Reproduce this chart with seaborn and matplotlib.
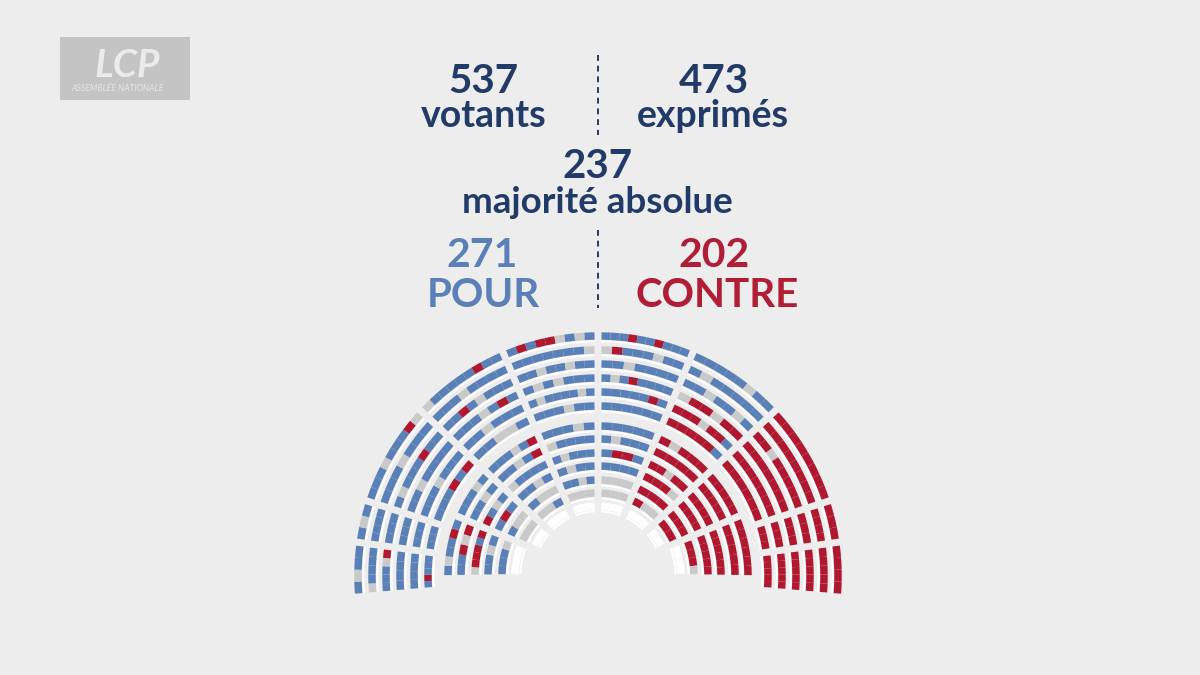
import numpy as np
import pandas as pd
import matplotlib.pyplot as plt
from matplotlib.patches import Wedge, Rectangle
import seaborn as sns

# header figures
votants = 537
exprimes = 473
majorite = 237
pour = 271
contre = 202

# seats per sector, one string per row (inner -> outer), seats from left to right
# P = pour, C = contre, A = abstention / non-votant, E = siege vide
L1 = ["EEE", "AAA", "PPAP", "PAPP", "PAPPP", "APPPP", "PPPAP",
      "PPPAPP", "PAPPPPAP", "PAPAPPP", "PPAPPAPP", "PPPPPPPA", "PCPCCAPAP"]
L2 = ["EEE", "AAP", "PAA", "PPAP", "APPPP", "PPAPC", "PPPAPC",
      "PPAAP", "PPAPPP", "PPPAPCP", "PPCPAPPP", "PPPAPPPP", "APPPPPCPP"]
L3_out = ["PPPCPC", "PPPAPPP", "PPAPPPP", "PAPPPCPP", "PPPAPPP", "PPPAPPPCA"]
L3_in = ["EEE", "AA", "PAA", "PCP", "CPAP", "PPAP", "PPPAP"]
L4_out = ["PPP", "PPP", "PPP", "PPP", "PPPP", "PAP"]
L5_out = ["PCPPP", "PPPP", "PPPP", "PPPAC", "APPPP", "PAPP"]
L4_in = ["EEE", "PPPA", "PPAP", "ACCCPC", "PPCAC", "PAPPCP"]

R1 = ["EEE", "AAA", "AAA", "PPPP", "PCCP", "PAPPP", "PPPPP",
      "PPPPPP", "PPPPPCP", "PAPCPPPP", "PPAPPPP", "ACPPPAPP", "PPPCPPCPPP"]
R2 = ["EEE", "CAA", "CCC", "CCCA", "CCACC", "CCCC", "CACCC",
      "CCCCCP", "CCCACCP", "ACCACC", "PPAPPAP", "PAPPPPP", "PPPPPAPP"]
R3_out = ["CCCCCC", "CCCCCCC", "CCCCCCC", "CCACCCCC", "CCCCCCCC", "CCCCCCCC"]
R3_in = ["EEE", "CC", "CCC", "CCCC", "CCCC", "CCCCC", "CCCCC"]
R4_out = ["CCC", "CCC", "CCC", "CCC", "CCCC", "CCC"]
R5_out = ["CCCCC", "CCCCC", "CCCCC", "CCCCC", "CCCCC", "CCCC"]
R4_in = ["EEE", "CCCA", "CCCCC", "CCCCCC", "CCCCC", "CCCCCC"]

# layout of the hemicycle (pixel units)
CX, CY = 598, 675 - 576
RADII = [70, 83, 96, 110, 123, 137, 150, 170, 184, 198, 212, 226, 240]
BAND = 7.5
AISLE = 3.5
SECTORS = [  # rows, angle of left aisle, angle of right aisle, first row index
    (L1, 113, 90, 0), (L2, 137, 113, 0), (L3_out, 162, 137, 7), (L3_in, 157, 137, 0),
    (L4_out, 172, 162, 7), (L5_out, 185, 172, 7), (L4_in, 181, 157, 1),
    (R1, 90, 67, 0), (R2, 67, 43, 0), (R3_out, 43, 18, 7), (R3_in, 43, 23, 0),
    (R4_out, 18, 8, 7), (R5_out, 8, -5, 7), (R4_in, 23, -1, 1),
]

BG = "#ededed"
NAVY = "#213b68"
SEAT_COL = {"P": "#5a80b8", "C": "#b0182f", "A": "#c9c9c9", "E": "#ffffff"}

seats, desks = [], []
for rows, a_hi, a_lo, first in SECTORS:
    for i, code in enumerate(rows):
        r = RADII[first + i]
        hg = np.degrees(AISLE / r)
        t_hi, t_lo = a_hi - hg, a_lo + hg
        desks.append((r, t_lo, t_hi))
        edges = np.linspace(t_hi, t_lo, len(code) + 1)
        for k, v in enumerate(code):
            seats.append({"r": r, "t1": edges[k + 1], "t2": edges[k], "vote": v})
seats = pd.DataFrame(seats)

sns.set_theme(style="white", rc={"figure.facecolor": BG, "axes.facecolor": BG})
plt.rcParams["font.family"] = ["Lato", "DejaVu Sans"]

fig = plt.figure(figsize=(12, 6.75), dpi=100)
ax = fig.add_axes([0, 0, 1, 1])
ax.set_xlim(0, 1200)
ax.set_ylim(0, 675)
ax.axis("off")

for r, t_lo, t_hi in desks:
    ax.add_patch(Wedge((CX, CY), r - BAND / 2 - 0.6, t_lo, t_hi, width=2.0,
                       facecolor="white", edgecolor="none"))
for s in seats.itertuples():
    ax.add_patch(Wedge((CX, CY), s.r + BAND / 2, s.t1, s.t2, width=BAND,
                       facecolor=SEAT_COL[s.vote], edgecolor="none"))

def y(px):
    return 675 - px

# header texts
ax.text(483, y(93), str(votants), ha="center", va="baseline", fontsize=29,
        fontweight="bold", color=NAVY)
ax.text(484, y(127), "votants", ha="center", va="baseline", fontsize=27,
        fontweight="bold", color=NAVY)
ax.text(714, y(93), str(exprimes), ha="center", va="baseline", fontsize=29,
        fontweight="bold", color=NAVY)
ax.text(713, y(127), "exprimés", ha="center", va="baseline", fontsize=27,
        fontweight="bold", color=NAVY)
ax.text(598, y(178), str(majorite), ha="center", va="baseline", fontsize=29,
        fontweight="bold", color=NAVY)
ax.text(597, y(213), "majorité absolue", ha="center", va="baseline", fontsize=26.5,
        fontweight="bold", color=NAVY)
ax.text(482, y(267), str(pour), ha="center", va="baseline", fontsize=29.5,
        fontweight="bold", color="#5b80b9")
ax.text(483, y(307), "POUR", ha="center", va="baseline", fontsize=29,
        fontweight="bold", color="#5b80b9")
ax.text(714, y(267), str(contre), ha="center", va="baseline", fontsize=29.5,
        fontweight="bold", color="#b01d35")
ax.text(717, y(307), "CONTRE", ha="center", va="baseline", fontsize=29,
        fontweight="bold", color="#b01d35")

ax.plot([598, 598], [y(55), y(135)], color=NAVY, lw=1.4, ls=(0, (3, 2.5)))
ax.plot([598, 598], [y(230), y(308)], color=NAVY, lw=1.4, ls=(0, (3, 2.5)))

# channel logo
ax.add_patch(Rectangle((60, y(100)), 130, 63, facecolor="#c4c4c4", edgecolor="none"))
ax.text(127, y(77), "LCP", ha="center", va="baseline", fontsize=28,
        fontweight="bold", fontstyle="italic", color="#ebebeb")
ax.text(117, y(91), "ASSEMBLÉE NATIONALE", ha="center", va="baseline", fontsize=6.2,
        fontstyle="italic", color="#e6e6e6")

fig.savefig("out.png", dpi=100, facecolor=BG)
